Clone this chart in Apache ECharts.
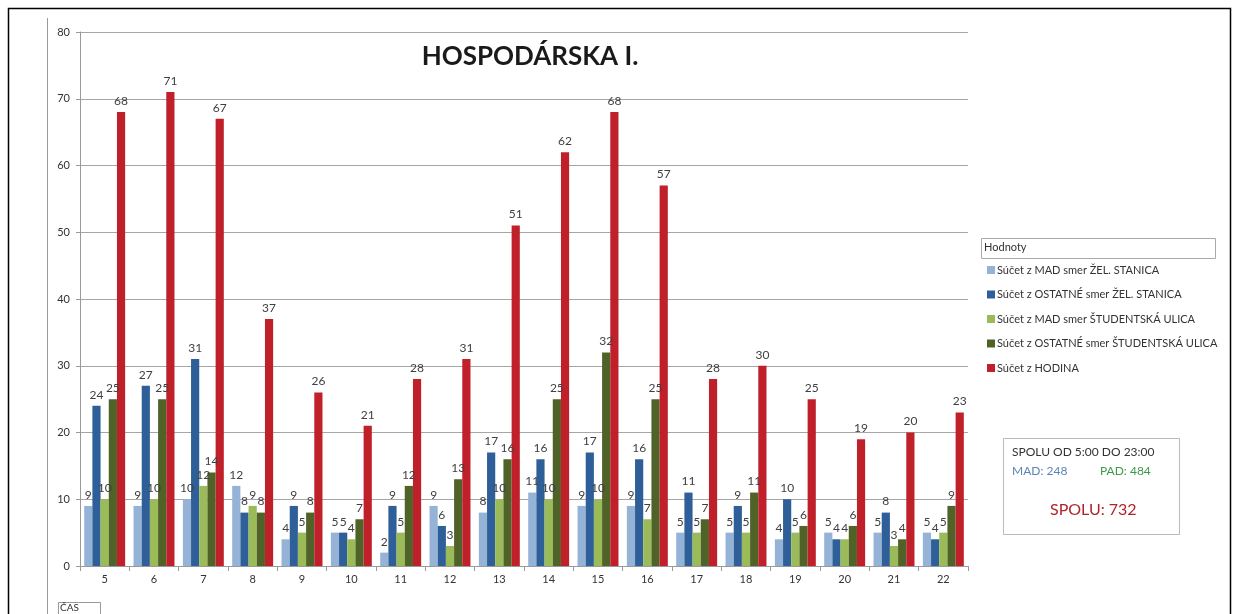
<!DOCTYPE html>
<html><head><meta charset="utf-8">
<script src="https://cdn.jsdelivr.net/npm/echarts@6/dist/echarts.min.js"></script>
<style>html,body{margin:0;padding:0;background:#fff}#c{width:1239px;height:614px}</style>
</head><body><div id="c"></div>
<script>
const categories = ['5','6','7','8','9','10','11','12','13','14','15','16','17','18','19','20','21','22'];
const madZel = [9,9,10,12,4,5,2,9,8,11,9,9,5,5,4,5,5,5];
const ostZel = [24,27,31,8,9,5,9,6,17,16,17,16,11,9,10,4,8,4];
const madStud = [10,10,12,9,5,4,5,3,10,10,10,7,5,5,5,4,3,5];
const ostStud = [25,25,14,8,8,7,12,13,16,25,32,25,7,11,6,6,4,9];
const hodina = [68,71,67,37,26,21,28,31,51,62,68,57,28,30,25,19,20,23];
const seriesNames = ['Súčet z MAD smer ŽEL. STANICA','Súčet z OSTATNÉ smer ŽEL. STANICA','Súčet z MAD smer ŠTUDENTSKÁ ULICA','Súčet z OSTATNÉ smer ŠTUDENTSKÁ ULICA','Súčet z HODINA'];
const yTicks = {min:0, max:80, interval:10};

const colors = ['#95b3d7','#2f5f98','#9bbb59','#4f6228','#c0202a'];
const F = 'Lato, "Open Sans", sans-serif';
const data = [madZel, ostZel, madStud, ostStud, hodina];

const chart = echarts.init(document.getElementById('c'));
chart.setOption({
  animation:false,
  color: colors,
  textStyle:{fontFamily:F},
  legend:{orient:'vertical', left:982, top:258, itemWidth:8, itemHeight:8, itemGap:10.5,
    icon:'rect', textStyle:{fontSize:11, color:'#333', fontFamily:F, lineHeight:14, padding:[0,0,0,-3]},
    data: seriesNames},
  grid:{left:80, right:271, top:32, bottom:48, containLabel:false},
  xAxis:{type:'category', data:categories,
    axisLine:{lineStyle:{color:'#999'}},
    axisTick:{show:true, length:5, lineStyle:{color:'#999'}},
    axisLabel:{color:'#333', fontSize:11, margin:8}},
  yAxis:{type:'value', min:yTicks.min, max:yTicks.max, interval:yTicks.interval,
    axisLine:{show:true, lineStyle:{color:'#999'}},
    axisTick:{show:true, length:4, inside:false, lineStyle:{color:'#999'}},
    axisLabel:{color:'#333', fontSize:11, margin:10},
    splitLine:{lineStyle:{color:'#a6a6a6'}}},
  series: seriesNames.map((n,i)=>({
    name:n, type:'bar', data:data[i], barGap:'0%', barCategoryGap:'17%',
    itemStyle:{color:colors[i]},
    label:{show:true, position:'top', distance:5, color:'#404040', fontSize:12, fontFamily:F}
  })),
  graphic:[
    {type:'rect', shape:{x:8.5,y:8.5,width:1222,height:620}, style:{fill:null, stroke:'#000', lineWidth:1.5}, silent:true},
    {type:'line', shape:{x1:47.5,y1:18,x2:47.5,y2:614}, style:{stroke:'#999', lineWidth:1}},
    {type:'text', x:530, y:57, style:{text:'HOSPODÁRSKA I.', align:'center', verticalAlign:'middle', fontSize:26, fontWeight:'bold', fill:'#1a1a1a', fontFamily:F}},
    {type:'rect', shape:{x:58.5,y:602.5,width:42,height:20}, style:{fill:'#fff', stroke:'#999', lineWidth:1}},
    {type:'text', left:60, top:603, style:{text:'ČAS', fontSize:10, fill:'#333', fontFamily:F}},
    {type:'rect', shape:{x:981.5,y:238.5,width:234,height:20}, style:{fill:'#fff', stroke:'#aaa', lineWidth:1}},
    {type:'text', left:984, top:242, style:{text:'Hodnoty', fontSize:11, fill:'#333', fontFamily:F}},
    {type:'rect', shape:{x:1003.5,y:438.5,width:176,height:96}, style:{fill:'#fff', stroke:'#bbb', lineWidth:1}},
    {type:'text', left:1012, top:446, style:{text:'SPOLU OD 5:00 DO 23:00', fontSize:12, fill:'#333', fontFamily:F}},
    {type:'text', left:1012, top:465, style:{text:'MAD: 248', fontSize:12, fill:'#5b85b8', fontFamily:F}},
    {type:'text', left:1100, top:465, style:{text:'PAD: 484', fontSize:12, fill:'#3d9a48', fontFamily:F}},
    {type:'text', left:1050, top:502, style:{text:'SPOLU: 732', fontSize:16, fill:'#b0232a', fontFamily:F}}
  ]
});
</script></body></html>
